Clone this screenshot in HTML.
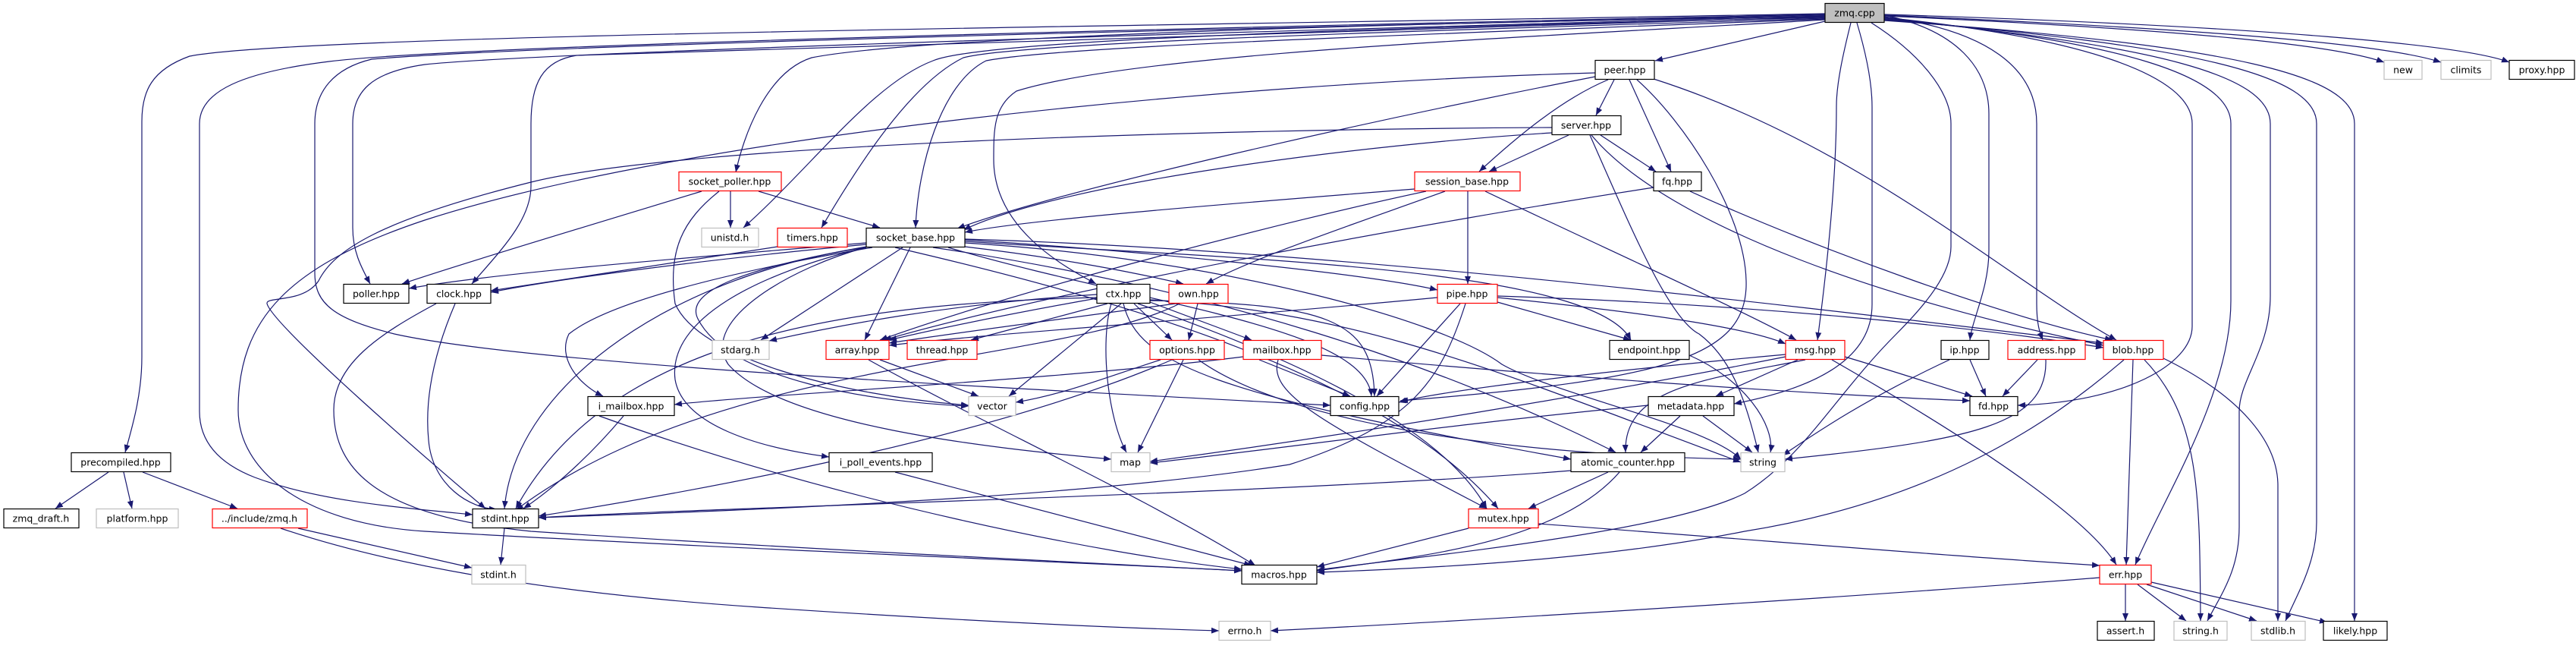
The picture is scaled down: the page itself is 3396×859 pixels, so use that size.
<!DOCTYPE html>
<html><head><meta charset="utf-8"><style>
html,body{margin:0;padding:0;background:#fff;}
svg{display:block;}
text{font-family:"DejaVu Sans","Liberation Sans",sans-serif;font-size:12.5px;fill:#000;}
.e{fill:none;stroke:#191970;stroke-width:1.2;}
</style></head><body>
<svg width="3396" height="859" viewBox="0 0 3396 859" xmlns="http://www.w3.org/2000/svg">
<defs><marker id="a" markerUnits="userSpaceOnUse" markerWidth="11" markerHeight="9" refX="10" refY="4" orient="auto"><path d="M0,0 L10,4 L0,8 z" fill="#191970"/></marker></defs>
<g class="e" marker-end="url(#a)">
<path d="M2406,18 C1500,35 400,45 250,74 C200,92 187,120 187,160 L187,470 C187,520 175,560 165,596"/>
<path d="M2406,19 C1500,38 600,60 434,81 C320,95 263,120 263,163 L263,542 C263,590 300,615 336,629 C420,660 520,668 623,678"/>
<path d="M2406,20 C1500,40 700,60 490,78 C440,90 415,120 415,163 L415,360 C415,400 440,420 520,440 C700,480 1300,510 1754,534"/>
<path d="M2406,21 C1500,45 700,70 560,85 C490,95 465,120 465,163 L465,300 C465,330 475,350 488,374"/>
<path d="M2406,22 C1600,45 900,65 760,73 C715,80 700,110 700,163 L700,245 C700,290 660,330 622,374"/>
<path d="M2406,22 C1800,30 1200,50 1070,76 C1010,95 980,180 970,227"/>
<path d="M2406,23 C1900,35 1300,50 1230,80 C1150,110 1070,220 980,300"/>
<path d="M2406,24 C1900,40 1350,55 1270,76 C1200,110 1130,220 1083,300"/>
<path d="M2406,25 C1900,45 1400,60 1300,80 C1240,110 1210,220 1207,300"/>
<path d="M2406,26 C2000,50 1500,70 1340,120 C1310,140 1310,170 1310,210 C1310,300 1400,350 1445,374"/>
<path d="M2406,28 L2182,80"/>
<path d="M2440,30 C2430,70 2421,110 2421,140 C2421,250 2405,380 2396,448"/>
<path d="M2448,30 C2460,70 2468,110 2468,141 L2468,401 C2468,470 2400,510 2286,532"/>
<path d="M2467,30 C2530,70 2572,120 2572,163 L2572,325 C2572,360 2540,400 2500,440 C2420,520 2380,600 2300,650 C2200,700 1900,730 1736,751"/>
<path d="M2484,20 C2580,40 2622,90 2622,150 L2622,330 C2622,380 2600,420 2597,448"/>
<path d="M2484,22 C2620,40 2685,90 2685,163 L2685,400 C2685,430 2690,440 2693,448"/>
<path d="M2484,23 C2750,50 2890,100 2890,163 L2890,430 C2890,480 2800,530 2660,534"/>
<path d="M2484,24 C2800,55 2941,100 2941,163 L2941,396 C2941,520 2850,660 2815,744"/>
<path d="M2484,25 C2850,60 2993,100 2993,163 L2993,390 C2993,460 2952,500 2952,542 L2952,694 C2952,750 2930,780 2910,818"/>
<path d="M2484,26 C2900,60 3054,100 3054,163 L3054,688 C3054,740 3030,780 3013,818"/>
<path d="M2484,27 C2950,60 3104,100 3104,163 L3104,818"/>
<path d="M2484,21 C2900,40 3080,60 3143,82"/>
<path d="M2484,20 C2950,40 3150,60 3218,82"/>
<path d="M2484,19 C3000,35 3250,60 3308,82"/>
<path d="M2128,105 L2104,152"/>
<path d="M2120,105 C2060,130 2000,180 1950,226"/>
<path d="M2148,105 L2203,226"/>
<path d="M2103,101 C1800,160 1400,250 1262,301"/>
<path d="M2158,105 C2220,160 2300,280 2302,370 C2305,470 2200,500 1846,528"/>
<path d="M2180,104 C2450,190 2650,370 2790,448"/>
<path d="M2103,96 C1600,110 900,180 560,290 C380,350 314,420 314,540 C314,620 400,690 560,700 C900,720 1400,740 1637,752"/>
<path d="M2068,178 L1963,226"/>
<path d="M2110,178 L2183,226"/>
<path d="M2046,175 C1800,190 1400,240 1270,303"/>
<path d="M2046,168 C1600,170 900,190 700,240 C500,290 440,330 420,370 C400,400 350,390 352,400 C360,430 580,620 640,670"/>
<path d="M2098,178 C2200,300 2500,400 2773,455"/>
<path d="M2096,178 C2150,300 2200,420 2240,440 C2280,470 2300,520 2318,596"/>
<path d="M1935,252 L1935,374"/>
<path d="M1865,249 C1600,270 1350,290 1272,306"/>
<path d="M1905,252 C1800,290 1650,340 1590,374"/>
<path d="M1958,252 C2100,320 2300,410 2368,448"/>
<path d="M1880,252 C1700,290 1350,380 1160,448"/>
<path d="M2180,247 C1900,290 1400,380 1165,448"/>
<path d="M2228,252 C2400,330 2650,420 2785,448"/>
<path d="M963,252 L963,300"/>
<path d="M1000,252 L1160,300"/>
<path d="M925,252 C800,290 600,350 530,374"/>
<path d="M948,252 C900,290 880,330 890,400 C920,470 1100,520 1277,534"/>
<path d="M1025,325 L647,383"/>
<path d="M1142,320 C900,340 650,360 539,380"/>
<path d="M1142,322 C950,340 750,365 647,385"/>
<path d="M1190,326 L1003,448"/>
<path d="M1200,326 L1140,448"/>
<path d="M1272,325 C1400,340 1500,360 1560,374"/>
<path d="M1272,316 C1500,330 1800,360 1895,382"/>
<path d="M1272,318 C1600,340 2100,350 2150,448"/>
<path d="M1272,315 C1800,330 2500,420 2773,452"/>
<path d="M1150,326 C950,360 800,400 750,440 C735,470 760,505 795,522"/>
<path d="M1142,325 C1000,350 900,380 920,420 C960,500 1150,530 1277,535"/>
<path d="M1142,326 C1050,350 920,420 960,480 C1030,560 1300,590 1465,605"/>
<path d="M1142,326 C1000,360 880,420 890,500 C900,560 1000,590 1093,602"/>
<path d="M1142,326 C900,360 680,500 665,670"/>
<path d="M1180,326 C1500,400 1830,500 1975,670"/>
<path d="M1230,326 C1600,380 1900,480 2130,596"/>
<path d="M1272,320 C1600,340 1900,420 1980,480 C2050,520 2250,560 2295,605"/>
<path d="M1250,326 C1500,400 1800,430 1808,522"/>
<path d="M1446,388 C1250,400 1100,430 1014,449"/>
<path d="M1446,393 C1350,410 1250,430 1172,448"/>
<path d="M1460,400 L1280,448"/>
<path d="M1495,400 L1545,448"/>
<path d="M1516,398 L1650,448"/>
<path d="M1478,400 L1330,522"/>
<path d="M1465,400 C1450,450 1460,550 1485,596"/>
<path d="M1481,400 C1500,480 1600,520 2071,605"/>
<path d="M1500,400 C1700,470 1900,560 1960,670"/>
<path d="M1516,396 C1750,400 1810,420 1812,522"/>
<path d="M1516,395 C1800,410 2000,500 2295,609"/>
<path d="M1446,392 C1100,400 800,450 680,670"/>
<path d="M1579,400 L1567,448"/>
<path d="M1550,400 C1400,420 1250,440 1172,452"/>
<path d="M1555,400 C1400,480 950,470 680,672"/>
<path d="M1974,392 C2150,410 2300,430 2354,453"/>
<path d="M1925,400 L1815,522"/>
<path d="M1974,398 L2150,448"/>
<path d="M1932,400 C1900,500 1862,560 1700,612 C1400,660 900,675 710,682"/>
<path d="M1974,390 C2300,400 2600,430 2773,458"/>
<path d="M1895,392 C1600,420 1300,440 1172,455"/>
<path d="M1160,474 L1290,522"/>
<path d="M1145,474 C1300,560 1500,650 1655,745"/>
<path d="M1530,474 C1450,500 1400,520 1339,530"/>
<path d="M1560,474 L1500,596"/>
<path d="M1545,474 C1300,580 900,650 710,680"/>
<path d="M1580,474 C1700,560 2000,600 2295,605"/>
<path d="M1639,470 C1400,500 1000,520 889,533"/>
<path d="M1660,474 L1780,522"/>
<path d="M1742,468 C2100,500 2400,520 2597,528"/>
<path d="M1685,474 C1670,520 1750,560 1960,670"/>
<path d="M2227,468 C2300,500 2340,560 2334,596"/>
<path d="M2432,470 C2500,490 2560,510 2600,522"/>
<path d="M2415,474 C2600,580 2750,680 2790,744"/>
<path d="M2370,474 L2262,522"/>
<path d="M2380,474 C2250,500 2140,510 2143,596"/>
<path d="M2354,467 C2100,490 1900,515 1844,530"/>
<path d="M2354,470 C2100,520 1800,570 1516,608"/>
<path d="M2173,534 C1900,560 1700,590 1516,610"/>
<path d="M2215,548 L2163,596"/>
<path d="M2245,548 L2310,596"/>
<path d="M2120,622 L2015,670"/>
<path d="M2135,622 C2050,720 1850,735 1736,752"/>
<path d="M2071,620 C1700,650 900,670 710,682"/>
<path d="M1936,696 L1736,747"/>
<path d="M2028,690 C2300,710 2600,735 2768,745"/>
<path d="M822,548 C770,610 720,650 690,670"/>
<path d="M790,548 C1100,660 1450,730 1637,750"/>
<path d="M600,400 C570,470 560,530 565,580 C570,640 620,670 655,671"/>
<path d="M575,400 C500,440 440,480 440,540 C440,620 500,680 700,700 C1000,720 1400,740 1637,752"/>
<path d="M1180,622 L1650,745"/>
<path d="M665,696 L660,744"/>
<path d="M393,696 L622,748"/>
<path d="M370,696 C500,740 700,780 1000,800 C1300,820 1500,828 1607,831"/>
<path d="M143,622 L73,670"/>
<path d="M163,622 L174,670"/>
<path d="M188,622 L313,670"/>
<path d="M2597,474 L2618,522"/>
<path d="M2570,474 C2450,530 2380,580 2350,600"/>
<path d="M2686,474 L2640,522"/>
<path d="M2697,474 C2700,560 2600,580 2353,605"/>
<path d="M2812,474 L2803,744"/>
<path d="M2827,474 C2900,550 2900,650 2901,818"/>
<path d="M2852,472 C2950,520 3003,580 3003,640 L3003,818"/>
<path d="M2800,474 C2700,560 2550,660 2300,700 C2100,740 1850,750 1736,754"/>
<path d="M2768,761 C2400,790 1900,820 1675,831"/>
<path d="M2802,770 L2802,818"/>
<path d="M2818,770 L2882,818"/>
<path d="M2830,770 L2975,818"/>
<path d="M2836,767 L3068,820"/>
</g>
<g stroke-width="1.2">
<rect x="2406" y="4.5" width="78" height="25" fill="#bfbfbf" stroke="#000"/><text x="2445" y="21.5" text-anchor="middle">zmq.cpp</text>
<g fill="#fff" stroke="#000">
<rect x="2103" y="79.5" width="78" height="25"/><rect x="3308" y="79.5" width="86" height="25"/>
<rect x="2046" y="152.5" width="91" height="25"/><rect x="2180" y="226.5" width="63" height="25"/>
<rect x="1142" y="300.5" width="130" height="25"/><rect x="453" y="374.5" width="86" height="25"/>
<rect x="563" y="374.5" width="84" height="25"/><rect x="1446" y="374.5" width="70" height="25"/>
<rect x="2122" y="448.5" width="105" height="25"/><rect x="2559" y="448.5" width="63" height="25"/>
<rect x="775" y="522.5" width="114" height="25"/><rect x="1754" y="522.5" width="90" height="25"/>
<rect x="2173" y="522.5" width="113" height="25"/><rect x="2597" y="522.5" width="63" height="25"/>
<rect x="94" y="596.5" width="131" height="25"/><rect x="1093" y="596.5" width="136" height="25"/>
<rect x="2071" y="596.5" width="150" height="25"/><rect x="5" y="670.5" width="99" height="25"/>
<rect x="623" y="670.5" width="87" height="25"/><rect x="1637" y="744.5" width="99" height="25"/>
<rect x="2765" y="818.5" width="75" height="25"/><rect x="3063" y="818.5" width="84" height="25"/>
</g>
<g fill="#fff" stroke="#ff0000">
<rect x="895" y="226.5" width="135" height="25"/><rect x="1865" y="226.5" width="139" height="25"/>
<rect x="1025" y="300.5" width="92" height="25"/><rect x="1541" y="374.5" width="78" height="25"/>
<rect x="1895" y="374.5" width="79" height="25"/><rect x="1089" y="448.5" width="83" height="25"/>
<rect x="1196" y="448.5" width="92" height="25"/><rect x="1516" y="448.5" width="98" height="25"/>
<rect x="1639" y="448.5" width="103" height="25"/><rect x="2354" y="448.5" width="78" height="25"/>
<rect x="2647" y="448.5" width="102" height="25"/><rect x="2773" y="448.5" width="79" height="25"/>
<rect x="280" y="670.5" width="125" height="25"/><rect x="1936" y="670.5" width="92" height="25"/>
<rect x="2768" y="744.5" width="68" height="25"/>
</g>
<g fill="#fff" stroke="#bfbfbf">
<rect x="3143" y="79.5" width="50" height="25"/><rect x="3218" y="79.5" width="66" height="25"/>
<rect x="925" y="300.5" width="75" height="25"/><rect x="939" y="448.5" width="75" height="25"/>
<rect x="1277" y="522.5" width="62" height="25"/><rect x="1465" y="596.5" width="51" height="25"/>
<rect x="2295" y="596.5" width="58" height="25"/><rect x="127" y="670.5" width="108" height="25"/>
<rect x="622" y="744.5" width="71" height="25"/><rect x="1607" y="818.5" width="68" height="25"/>
<rect x="2866" y="818.5" width="70" height="25"/><rect x="2968" y="818.5" width="71" height="25"/>
</g>
</g>
<g text-anchor="middle">
<text x="2142" y="96.5">peer.hpp</text><text x="3168" y="96.5">new</text><text x="3251" y="96.5">climits</text><text x="3351" y="96.5">proxy.hpp</text>
<text x="2091" y="169.5">server.hpp</text>
<text x="962" y="243.5">socket_poller.hpp</text><text x="1934" y="243.5">session_base.hpp</text><text x="2211" y="243.5">fq.hpp</text>
<text x="962" y="317.5">unistd.h</text><text x="1071" y="317.5">timers.hpp</text><text x="1207" y="317.5">socket_base.hpp</text>
<text x="496" y="391.5">poller.hpp</text><text x="605" y="391.5">clock.hpp</text><text x="1481" y="391.5">ctx.hpp</text><text x="1580" y="391.5">own.hpp</text><text x="1934" y="391.5">pipe.hpp</text>
<text x="976" y="465.5">stdarg.h</text><text x="1130" y="465.5">array.hpp</text><text x="1242" y="465.5">thread.hpp</text><text x="1565" y="465.5">options.hpp</text><text x="1690" y="465.5">mailbox.hpp</text><text x="2174" y="465.5">endpoint.hpp</text><text x="2393" y="465.5">msg.hpp</text><text x="2590" y="465.5">ip.hpp</text><text x="2698" y="465.5">address.hpp</text><text x="2812" y="465.5">blob.hpp</text>
<text x="832" y="539.5">i_mailbox.hpp</text><text x="1308" y="539.5">vector</text><text x="1799" y="539.5">config.hpp</text><text x="2229" y="539.5">metadata.hpp</text><text x="2628" y="539.5">fd.hpp</text>
<text x="159" y="613.5">precompiled.hpp</text><text x="1161" y="613.5">i_poll_events.hpp</text><text x="1490" y="613.5">map</text><text x="2146" y="613.5">atomic_counter.hpp</text><text x="2324" y="613.5">string</text>
<text x="54" y="687.5">zmq_draft.h</text><text x="181" y="687.5">platform.hpp</text><text x="342" y="687.5">../include/zmq.h</text><text x="666" y="687.5">stdint.hpp</text><text x="1982" y="687.5">mutex.hpp</text>
<text x="657" y="761.5">stdint.h</text><text x="1686" y="761.5">macros.hpp</text><text x="2802" y="761.5">err.hpp</text>
<text x="1641" y="835.5">errno.h</text><text x="2802" y="835.5">assert.h</text><text x="2901" y="835.5">string.h</text><text x="3003" y="835.5">stdlib.h</text><text x="3105" y="835.5">likely.hpp</text>
</g>
</svg>
</body></html>
